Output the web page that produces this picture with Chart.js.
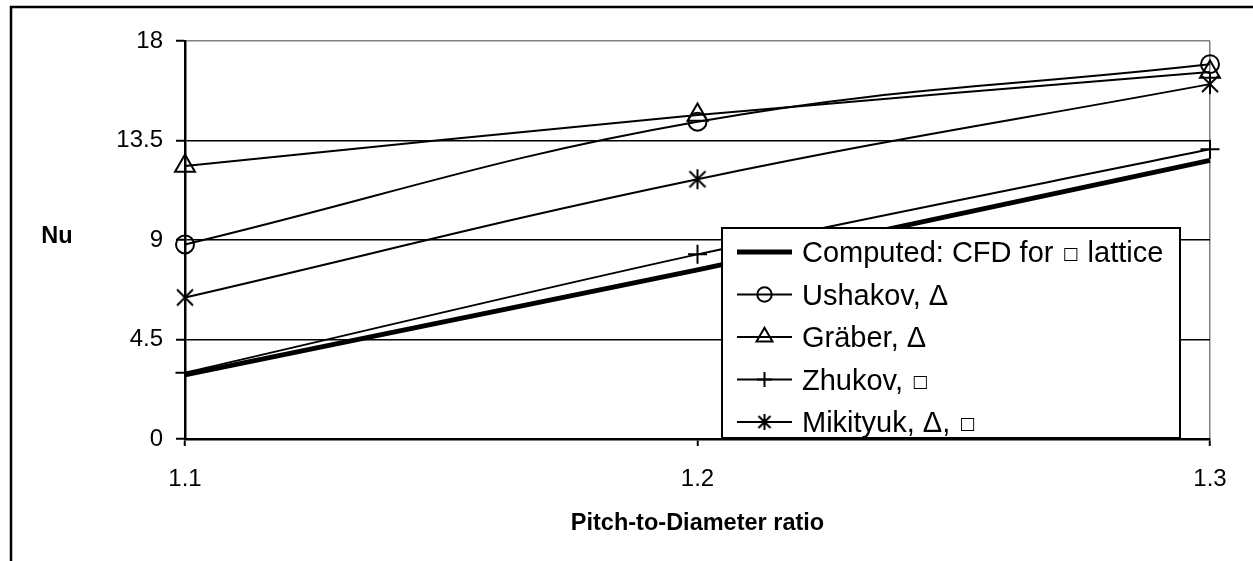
<!DOCTYPE html>
<html>
<head>
<meta charset="utf-8">
<script src="https://cdn.jsdelivr.net/npm/chart.js@4.4.1/dist/chart.umd.min.js"></script>
<style>
  html, body { margin: 0; padding: 0; background: #fff; }
  canvas { display: block; }
</style>
</head>
<body>
<canvas id="nuChart" width="1253" height="561"></canvas>
<script>
// data
const categories = ['1.1', '1.2', '1.3'];
const yTicks = [0, 4.5, 9, 13.5, 18];

const computedCFD = [2.9, 7.65, 12.6];
const ushakov = [8.8, 14.35, 16.95];
const graeber = [12.35, 14.65, 16.6];
const zhukov = [3.0, 8.35, 13.1];
const mikityuk = [6.4, 11.75, 16.05];

const seriesNames = [
    'Computed: CFD for \u25A1 lattice',
    'Ushakov, \u0394',
    'Gr\u00e4ber, \u0394',
    'Zhukov, \u25A1',
    'Mikityuk, \u0394, \u25A1'
];

const FONT = '"Liberation Sans", Arial, sans-serif';
const BOX = '\u25A1';

// Excel style asterisk marker: an X with a vertical stroke
function starMarker(size) {
    const c = document.createElement('canvas');
    c.width = size + 4;
    c.height = size + 4;
    const g = c.getContext('2d');
    const m = 2, e = size + 2, mid = c.width / 2;
    g.strokeStyle = '#000';
    g.lineWidth = 2;
    g.beginPath();
    g.moveTo(m + 1, m + 1); g.lineTo(e - 1, e - 1);
    g.moveTo(e - 1, m + 1); g.lineTo(m + 1, e - 1);
    g.moveTo(mid, m - 1); g.lineTo(mid, e + 1);
    g.stroke();
    return c;
}
const starBig = starMarker(18);
const starSmall = starMarker(14);

function series(label, data, style, radius, width, tension) {
    return {
        label: label,
        data: data,
        borderColor: '#000',
        borderWidth: width,
        backgroundColor: 'transparent',
        pointStyle: style,
        pointRadius: radius,
        pointBorderColor: '#000',
        pointBackgroundColor: 'transparent',
        pointBorderWidth: 2,
        tension: tension,
        fill: false
    };
}

// legend text, with the small square glyph drawn smaller like in the original
function drawLabel(ctx, text, x, y) {
    const parts = text.split(BOX);
    let cx = x;
    parts.forEach((p, i) => {
        ctx.font = '29px ' + FONT;
        ctx.fillText(p, cx, y);
        cx += ctx.measureText(p).width;
        if (i < parts.length - 1) {
            ctx.font = '17px "DejaVu Sans", ' + FONT;
            ctx.fillText(BOX, cx + 1, y - 3);
            cx += ctx.measureText(BOX).width + 2;
        }
    });
}

// outer frame, axis titles and the boxed legend inside the plot
const decorations = {
    id: 'decorations',
    afterDatasetsDraw(chart) {
        const ctx = chart.ctx;
        const area = chart.chartArea;
        ctx.save();

        // legend box
        const boxW = 458, boxH = 210;
        const bx = area.right - 30 - boxW;
        const by = area.bottom - 1 - boxH;
        ctx.fillStyle = '#fff';
        ctx.fillRect(bx, by, boxW, boxH);
        ctx.strokeStyle = '#000';
        ctx.lineWidth = 2;
        ctx.strokeRect(bx, by, boxW, boxH);

        ctx.textBaseline = 'alphabetic';
        ctx.textAlign = 'left';
        chart.data.datasets.forEach((ds, i) => {
            const cy = by + 24 + i * 42.5;
            const x0 = bx + 15, x1 = x0 + 55;
            ctx.strokeStyle = '#000';
            ctx.lineWidth = ds.borderWidth;
            ctx.beginPath();
            ctx.moveTo(x0, cy);
            ctx.lineTo(x1, cy);
            ctx.stroke();
            if (ds.pointRadius > 0) {
                const px = (x0 + x1) / 2;
                if (ds.pointStyle === starBig) {
                    ctx.drawImage(starSmall, px - starSmall.width / 2, cy - starSmall.height / 2);
                } else {
                    ctx.lineWidth = 2;
                    ctx.fillStyle = 'rgba(0,0,0,0)';
                    Chart.helpers.drawPoint(ctx, {
                        pointStyle: ds.pointStyle,
                        radius: ds.pointRadius * 0.8,
                        rotation: 0,
                        borderWidth: 2
                    }, px, cy);
                }
            }
            ctx.fillStyle = '#000';
            drawLabel(ctx, ds.label, x1 + 10, cy + 10);
        });

        // axis titles
        ctx.fillStyle = '#000';
        ctx.font = 'bold 23.5px ' + FONT;
        ctx.textAlign = 'center';
        ctx.fillText('Nu', 57, 243);
        ctx.fillText('Pitch-to-Diameter ratio', (area.left + area.right) / 2, 530);

        // outer frame
        ctx.strokeStyle = '#000';
        ctx.lineWidth = 2.5;
        ctx.beginPath();
        ctx.moveTo(1253, 7);
        ctx.lineTo(11, 7);
        ctx.lineTo(11, 561);
        ctx.stroke();
        ctx.restore();
    }
};

new Chart(document.getElementById('nuChart'), {
    type: 'line',
    data: {
        labels: categories,
        datasets: [
            series(seriesNames[0], computedCFD, false, 0, 5, 0),
            series(seriesNames[1], ushakov, 'circle', 9, 2, 0.4),
            series(seriesNames[2], graeber, 'triangle', 11.5, 2, 0.4),
            series(seriesNames[3], zhukov, 'cross', 9.5, 2, 0.3),
            series(seriesNames[4], mikityuk, starBig, 10, 2, 0.4)
        ]
    },
    options: {
        responsive: false,
        animation: false,
        devicePixelRatio: 1,
        layout: { padding: { top: 41, right: 43, left: 0, bottom: 0 } },
        plugins: {
            legend: { display: false },
            tooltip: { enabled: false }
        },
        scales: {
            x: {
                type: 'category',
                offset: false,
                afterFit(scale) { scale.height = 122; },
                grid: {
                    color: ctx => ctx.index === categories.length - 1 ? '#808080' : 'rgba(0,0,0,0)',
                    lineWidth: 1.5,
                    tickColor: '#000',
                    tickLength: 7,
                    tickWidth: 2
                },
                border: { color: '#000', width: 2.5 },
                ticks: {
                    color: '#000',
                    font: { family: FONT, size: 24 },
                    padding: 19,
                    maxRotation: 0
                }
            },
            y: {
                min: 0,
                max: 18,
                afterFit(scale) { scale.width = 185; },
                afterBuildTicks(scale) { scale.ticks = yTicks.map(v => ({ value: v })); },
                grid: {
                    color: ctx => ctx.tick && ctx.tick.value === 18 ? '#808080' : '#000',
                    lineWidth: 1.5,
                    tickColor: '#000',
                    tickLength: 9,
                    tickWidth: 2
                },
                border: { color: '#000', width: 2.5 },
                ticks: {
                    color: '#000',
                    font: { family: FONT, size: 24 },
                    padding: 13,
                    callback: v => String(v)
                }
            }
        }
    },
    plugins: [decorations]
});
</script>
</body>
</html>
